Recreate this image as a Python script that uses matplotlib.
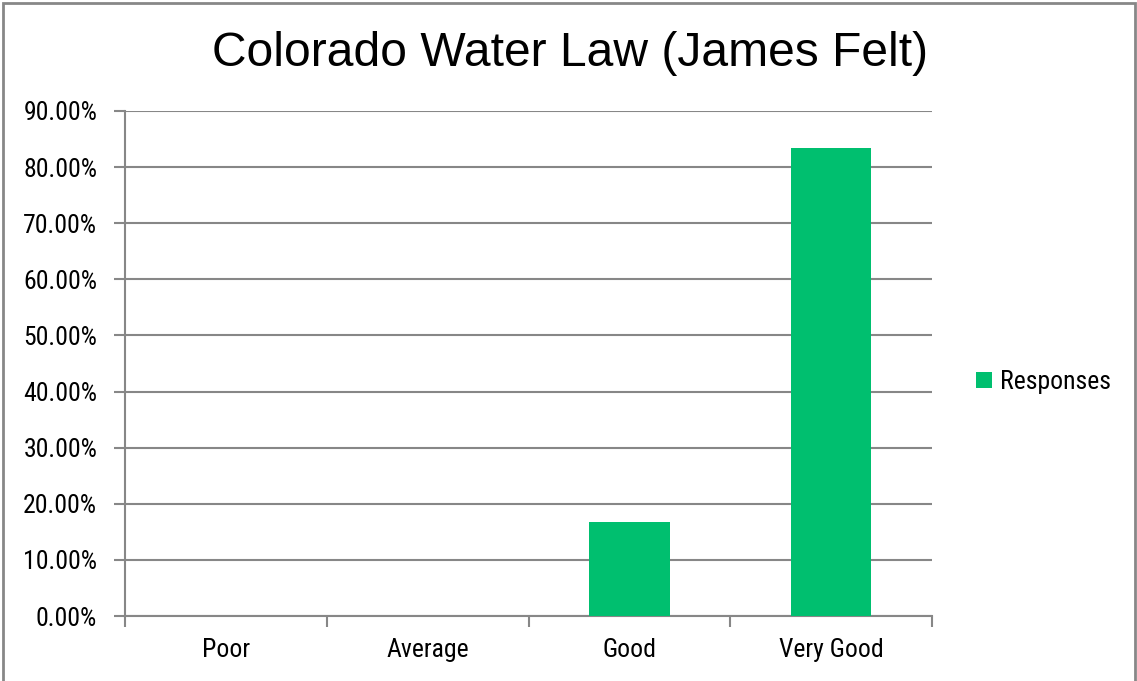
import numpy as np
import matplotlib
matplotlib.use('Agg')
import matplotlib.pyplot as plt
import matplotlib.ticker as ticker
from matplotlib.patches import Rectangle

categories = ['Poor', 'Average', 'Good', 'Very Good']
responses = [0.0, 0.0, 16.67, 83.33]
yticks = np.arange(0, 91, 10)

green = '#00BF6F'
grid_gray = '#878787'
sans = ['Liberation Sans', 'DejaVu Sans']
narrow = ['Roboto Condensed', 'Liberation Sans', 'DejaVu Sans']

fig = plt.figure(figsize=(11.37, 6.81), dpi=100)
ax = fig.add_axes([125 / 1137, 1 - 616 / 681, 807 / 1137, 505 / 681])

x = np.arange(len(categories))
ax.bar(x, responses, width=0.4, color=green, label='Responses', zorder=3)

ax.set_xlim(-0.5, len(categories) - 0.5)
ax.set_ylim(0, 90)
ax.set_yticks(yticks)
ax.yaxis.set_major_formatter(ticker.FuncFormatter(lambda v, p: '%.2f%%' % v))
ax.yaxis.grid(True, color=grid_gray, linewidth=1.5, zorder=0)

# category labels centred, ticks on the boundaries
ax.set_xticks(np.arange(-0.5, len(categories)), minor=False)
ax.set_xticklabels([])
ax.set_xticks(x, minor=True)
ax.set_xticklabels(categories, minor=True)
ax.tick_params(axis='x', which='minor', length=0, pad=16)
ax.tick_params(axis='x', which='major', length=8, width=1.5, color=grid_gray)
ax.tick_params(axis='y', length=8, width=1.5, color=grid_gray, pad=12)
for lab in ax.get_xticklabels(minor=True) + ax.get_yticklabels():
    lab.set_family(narrow)
    lab.set_fontsize(18.5)

for s in ['top', 'right']:
    ax.spines[s].set_visible(False)
for s in ['left', 'bottom']:
    ax.spines[s].set_color(grid_gray)
    ax.spines[s].set_linewidth(1.5)

fig.text(570 / 1137, 1 - 53 / 681, 'Colorado Water Law (James Felt)',
         ha='center', va='center', fontsize=34.6, family=sans)

leg = fig.legend(loc='center left', bbox_to_anchor=(953 / 1137, 1 - 382 / 681),
                 frameon=False, handlelength=0.62, handleheight=0.62, handletextpad=0.3,
                 prop={'family': narrow, 'size': 18.5})

fig.patches.append(Rectangle((3 / 1137, -0.01), 1132 / 1137, 1 - 3 / 681 + 0.01,
                             transform=fig.transFigure, fill=False,
                             edgecolor=grid_gray, linewidth=2))

fig.savefig('out.png', dpi=100)
